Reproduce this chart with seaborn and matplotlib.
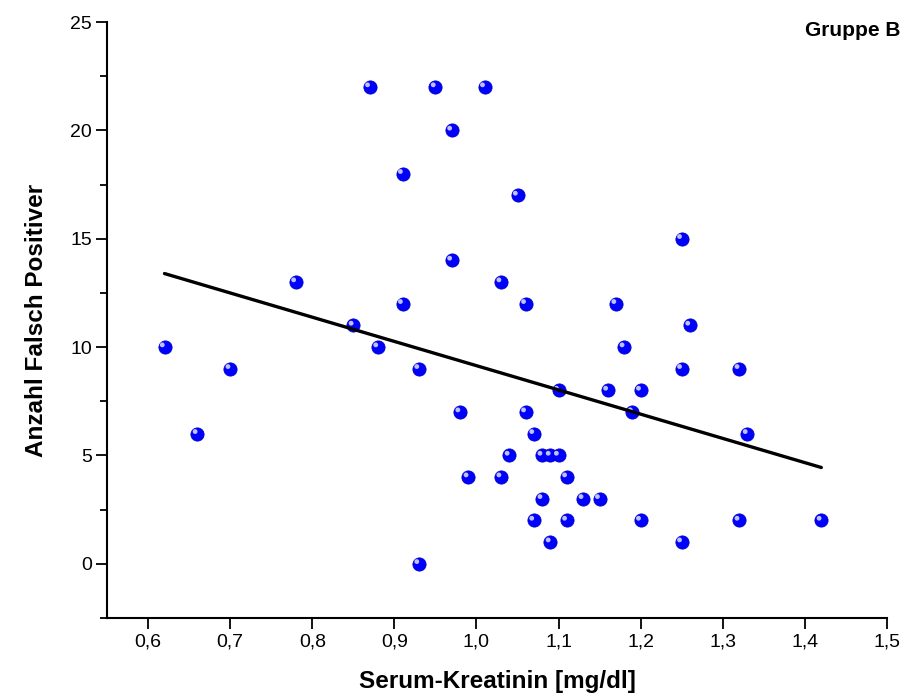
import matplotlib
matplotlib.use("Agg")
import matplotlib.pyplot as plt
import seaborn as sns
import pandas as pd
import numpy as np
from matplotlib.ticker import MultipleLocator, FuncFormatter
from matplotlib.transforms import ScaledTranslation

# Data
kreatinin = [0.62, 0.66, 0.70, 0.78, 0.85, 0.87, 0.88, 0.91, 0.91, 0.93,
             0.93, 0.95, 0.97, 0.97, 0.98, 0.99, 1.01, 1.03, 1.03, 1.04,
             1.05, 1.06, 1.06, 1.07, 1.07, 1.08, 1.08, 1.09, 1.09, 1.10,
             1.10, 1.11, 1.11, 1.13, 1.15, 1.16, 1.17, 1.18, 1.19, 1.20,
             1.20, 1.25, 1.25, 1.25, 1.26, 1.32, 1.32, 1.33, 1.42]
falsch_positive = [10, 6, 9, 13, 11, 22, 10, 18, 12, 9,
                   0, 22, 20, 14, 7, 4, 22, 13, 4, 5,
                   17, 12, 7, 6, 2, 5, 3, 5, 1, 5,
                   8, 4, 2, 3, 3, 8, 12, 10, 7, 8,
                   2, 15, 9, 1, 11, 9, 2, 6, 2]
x_ticks = [0.6, 0.7, 0.8, 0.9, 1.0, 1.1, 1.2, 1.3, 1.4, 1.5]
y_ticks = [0, 5, 10, 15, 20, 25]
x_label = "Serum-Kreatinin [mg/dl]"
y_label = "Anzahl Falsch Positiver"
group_label = "Gruppe B"

df = pd.DataFrame({"x": kreatinin, "y": falsch_positive})

sns.set_style("ticks")
plt.rcParams["font.family"] = ["Liberation Sans", "DejaVu Sans"]
plt.rcParams["text.color"] = "black"
plt.rcParams["axes.labelcolor"] = "black"
plt.rcParams["xtick.color"] = "black"
plt.rcParams["ytick.color"] = "black"

fig = plt.figure(figsize=(9.04, 6.95), dpi=100)
ax = fig.add_axes([0.1184, 0.1108, 0.8628, 0.8575])

# spheres: base + highlight
sns.scatterplot(data=df, x="x", y="y", ax=ax, s=90, color="#0000ff",
                edgecolor="#0000c8", linewidth=0.6, zorder=3, legend=False)
sns.scatterplot(data=df, x="x", y="y", ax=ax, s=12, color="#c0c0ff",
                edgecolor="none", linewidth=0, zorder=4, legend=False)
hl = ax.collections[-1]
hl.set_offset_transform(ax.transData + ScaledTranslation(-1.6 / 72, 1.6 / 72, fig.dpi_scale_trans))

sns.regplot(data=df, x="x", y="y", ax=ax, scatter=False, ci=None,
            line_kws=dict(color="black", lw=2.4, zorder=5))

ax.set_xlim(0.55, 1.5)
ax.set_ylim(-2.5, 25)
ax.set_xticks(x_ticks)
ax.set_yticks(y_ticks)
ax.yaxis.set_minor_locator(MultipleLocator(2.5))
ax.xaxis.set_major_formatter(FuncFormatter(lambda v, p: f"{v:.1f}".replace(".", ",")))

for s in ["top", "right"]:
    ax.spines[s].set_visible(False)
for s in ["left", "bottom"]:
    ax.spines[s].set_linewidth(1.5)
    ax.spines[s].set_color("black")

ax.tick_params(axis="both", which="major", direction="out", length=8, width=1.3,
               labelsize=14, colors="black")
ax.tick_params(axis="x", which="major", pad=3)
ax.tick_params(axis="y", which="major", pad=3)
ax.tick_params(axis="y", which="minor", direction="out", length=5, width=1.3)

ax.set_xlabel(x_label, fontsize=17.5, fontweight="bold", labelpad=14)
ax.set_ylabel(y_label, fontsize=17.5, fontweight="bold", labelpad=16)

fig.text(0.996, 0.956, group_label, ha="right", va="center", fontsize=15,
         fontweight="bold")

fig.savefig("out.png", dpi=100)
